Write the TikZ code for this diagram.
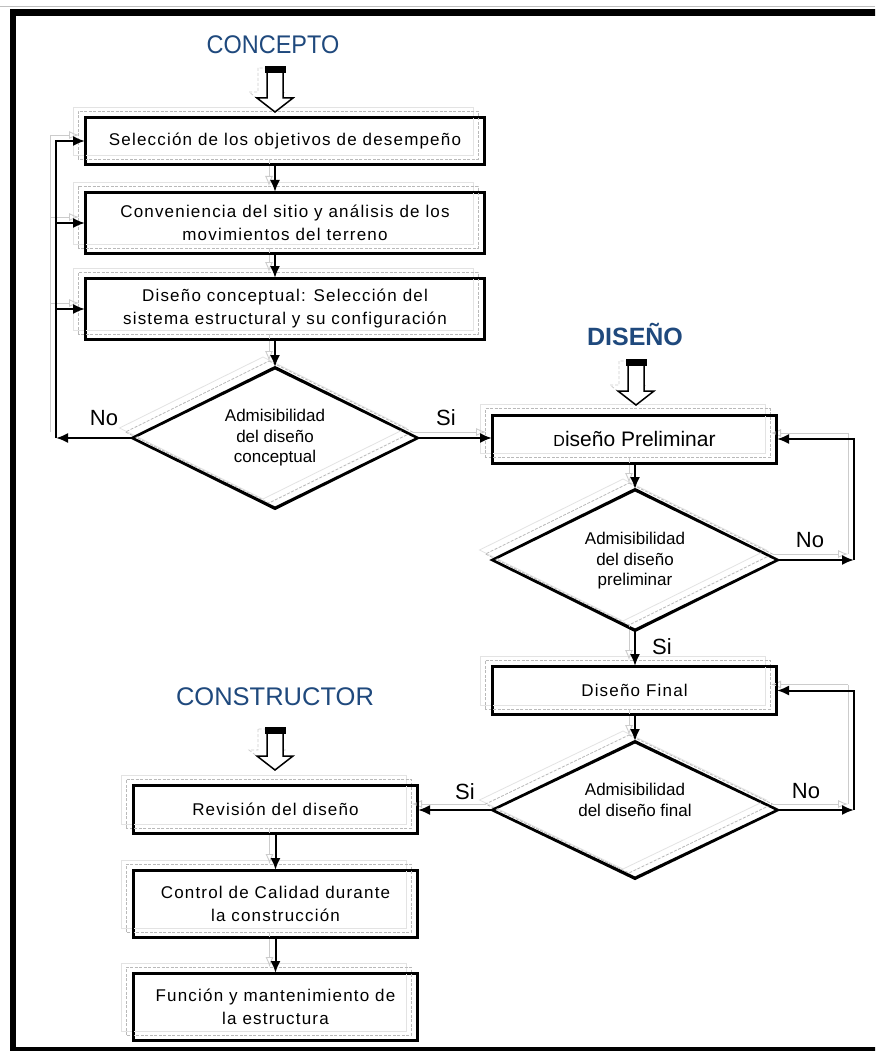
\documentclass[tikz,border=0pt]{standalone}
\usepackage{fontspec}
\setmainfont{Liberation Sans}
\newfontfamily\boxfont[LetterSpace=7]{Liberation Sans}
\usetikzlibrary{shapes.geometric,arrows.meta}
\definecolor{titleblue}{RGB}{31,73,125}
\newcommand\boxshadow[1]{%
  \draw[shadowA] ([shift={(-12,-10)}]#1.south west) rectangle ([shift={(-12,-10)}]#1.north east);
  \draw[shadowB] ([shift={(-7,-6)}]#1.south west) rectangle ([shift={(-7,-6)}]#1.north east);}
\newcommand\diashadow[1]{%
  \draw[shadowA] ([shift={(-12,-10)}]#1.north) -- ([shift={(-12,-10)}]#1.east) -- ([shift={(-12,-10)}]#1.south) -- ([shift={(-12,-10)}]#1.west) -- cycle;
  \draw[shadowB] ([shift={(-6,-6)}]#1.north) -- ([shift={(-6,-6)}]#1.east) -- ([shift={(-6,-6)}]#1.south) -- ([shift={(-6,-6)}]#1.west) -- cycle;}
\newcommand\startarrow[3]{% centre x, top y, tip y
  \draw[gray!40, line width=0.8pt, densely dashed] ({#1-17},{#2+2}) -- ({#1-17},{#3-20}) -- ({#1-26},{#3-20}) -- ({#1-8},{#3-6}) -- ({#1+10},{#3-20}) -- ({#1+1},{#3-20}) -- ({#1+1},{#2+2}) -- cycle;
  \draw[line width=1.5pt, fill=white] ({#1-8},{#2+6}) -- ({#1-8},{#3-14}) -- ({#1-18},{#3-14}) -- (#1,#3) -- ({#1+18},{#3-14}) -- ({#1+8},{#3-14}) -- ({#1+8},{#2+6});
  \fill[black] ({#1-10},#2) rectangle ({#1+11},{#2+7});}
\tikzset{
  titlefont/.style={text=titleblue, inner sep=0pt, font=\fontsize{25.5}{25.5}\selectfont},
  cbox/.style={draw=black, line width=2pt, minimum width=398pt, align=center, inner sep=0pt,
    font=\boxfont\fontsize{17}{23}\selectfont},
  dbox/.style={draw=black, line width=2pt, minimum width=283pt, align=center, inner sep=0pt,
    font=\boxfont\fontsize{17}{23}\selectfont},
  dia/.style={diamond, draw=black, line width=2pt, minimum width=285pt, minimum height=140pt,
    aspect=2.04, inner sep=0pt},
  diatext/.style={align=center, inner sep=0pt, font=\fontsize{17}{20.5}\selectfont},
  lbl/.style={inner sep=0pt, font=\fontsize{22}{22}\selectfont},
  conn/.style={line width=2pt, -{Latex[length=12pt,width=10pt]}},
  cshadow/.style={gray!40, line width=0.9pt, -{Latex[open,length=10pt,width=8pt]}},
  pshadow/.style={gray!40, line width=0.9pt},
  shadowA/.style={gray!22, line width=0.8pt},
  shadowB/.style={gray!55, line width=0.8pt, dash pattern=on 3pt off 1.5pt},
}
\begin{document}
\begin{tikzpicture}[x=1pt,y=-1pt]
\useasboundingbox (0,0) rectangle (875,1051);
\clip (0,0) rectangle (875,1051);
\fill[white] (0,0) rectangle (875,1051);
\draw[gray!50, line width=0.6pt] (0,6) -- (875,6);
\draw[line width=6.5pt] (13,12.5) rectangle (895,1050);

% coordinates for loops
\coordinate (L1) at (56,438);
\coordinate (L2) at (56,141);
\coordinate (R1) at (854,560);
\coordinate (R2) at (854,439);
\coordinate (R3) at (854,810);
\coordinate (R4) at (854,690.5);

% nodes
\node[titlefont] (tc) at (273,45) {\scalebox{0.92}[1]{CONCEPTO}};
\node[cbox, minimum height=46pt] (b1) at (285,141) {Selección de los objetivos de desempeño};
\node[cbox, minimum height=60pt] (b2) at (285,223) {Conveniencia del sitio y análisis de los\\movimientos del terreno};
\node[cbox, minimum height=60pt] (b3) at (285,309) {Diseño conceptual: Selección del\\sistema estructural y su configuración};
\node[dia] (d1) at (275,438) {};
\node[titlefont, font=\bfseries\fontsize{25}{25}\selectfont] (td) at (635,334) {DISEÑO};
\node[dbox, minimum height=47pt, font=\fontsize{21}{21}\selectfont] (p1) at (634.5,439) {{\fontsize{16}{16}\selectfont D}iseño Preliminar};
\node[dia] (d2) at (635,560) {};
\node[dbox, minimum height=47pt] (f1) at (634.5,690.5) {Diseño Final};
\node[dia, minimum height=136pt] (d3) at (635,810) {};
\node[titlefont] (tk) at (275,697) {CONSTRUCTOR};
\node[dbox, minimum height=47pt] (r1) at (275.5,809.5) {Revisión del diseño};
\node[dbox, minimum height=66pt] (r2) at (275.5,904) {Control de Calidad durante\\la construcción};
\node[dbox, minimum height=66pt] (r3) at (275.5,1007) {Función y mantenimiento de\\la estructura};

% shadows
\boxshadow{b1}\boxshadow{b2}\boxshadow{b3}
\boxshadow{p1}\boxshadow{f1}
\boxshadow{r1}\boxshadow{r2}\boxshadow{r3}
\diashadow{d1}\diashadow{d2}\diashadow{d3}

% connector shadows
\begin{scope}[transform canvas={shift={(-6pt,6pt)}}]
\draw[cshadow] (b1.south -| d1.north) -- (b2.north -| d1.north);
\draw[cshadow] (b2.south -| d1.north) -- (b3.north -| d1.north);
\draw[cshadow] (b3.south -| d1.north) -- (d1.north);
\draw[pshadow] (L1) -- (L2);
\draw[cshadow] (L2) -- (b1.west);
\draw[cshadow] (b2.west -| L1) -- (b2.west);
\draw[cshadow] (b3.west -| L1) -- (b3.west);
\draw[cshadow] (d1.east) -- (d1.east -| p1.west);
\draw[cshadow] (p1.south -| d2.north) -- (d2.north);
\draw[cshadow] (d2.east) -- (R1);
\draw[pshadow] (R1) -- (R2);
\draw[cshadow] (R2) -- (p1.east);
\draw[cshadow] (d2.south) -- (f1.north -| d2.south);
\draw[cshadow] (f1.south -| d3.north) -- (d3.north);
\draw[cshadow] (d3.east) -- (R3);
\draw[pshadow] (R3) -- (R4);
\draw[cshadow] (R4) -- (f1.east);
\draw[cshadow] (d3.west) -- (d3.west -| r1.east);
\draw[cshadow] (r1.south) -- (r2.north);
\draw[cshadow] (r2.south) -- (r3.north);
\end{scope}

% redraw main outlines over shadows
\foreach \n in {b1,b2,b3,p1,f1,r1,r2,r3}{
  \draw[line width=2pt] (\n.south west) rectangle (\n.north east);}
\foreach \n in {d1,d2,d3}{
  \draw[line width=2pt] (\n.north) -- (\n.east) -- (\n.south) -- (\n.west) -- cycle;}

% diamond texts
\node[diatext] (d1t) at (275,438) {Admisibilidad\\del diseño\\conceptual};
\node[diatext] (d2t) at (635,561) {Admisibilidad\\del diseño\\preliminar};
\node[diatext] (d3t) at (635,800) {Admisibilidad\\del diseño final};

% start arrows
\startarrow{275}{66}{112}
\startarrow{636}{359}{405}
\startarrow{275}{727}{770}

% connectors
\draw[conn] (b1.south -| d1.north) -- (b2.north -| d1.north);
\draw[conn] (b2.south -| d1.north) -- (b3.north -| d1.north);
\draw[conn] (b3.south -| d1.north) -- (d1.north);
\draw[conn] (d1.west) -- (L1);
\draw[conn] (L1) -- (L2) -- (b1.west);
\draw[conn] (b2.west -| L1) -- (b2.west);
\draw[conn] (b3.west -| L1) -- (b3.west);
\draw[conn] (d1.east) -- (d1.east -| p1.west);
\draw[conn] (p1.south -| d2.north) -- (d2.north);
\draw[conn] (d2.east) -- (R1);
\draw[conn] (R1) -- (R2) -- (p1.east);
\draw[conn] (d2.south) -- (f1.north -| d2.south);
\draw[conn] (f1.south -| d3.north) -- (d3.north);
\draw[conn] (d3.east) -- (R3);
\draw[conn] (R3) -- (R4) -- (f1.east);
\draw[conn] (d3.west) -- (d3.west -| r1.east);
\draw[conn] (r1.south) -- (r2.north);
\draw[conn] (r2.south) -- (r3.north);

% labels
\node[lbl] (no1) at (104,418) {No};
\node[lbl] (si1) at (446,418) {Si};
\node[lbl] (no2) at (810,540) {No};
\node[lbl] (si2) at (662,647) {Si};
\node[lbl] (no3) at (806,791) {No};
\node[lbl] (si3) at (465,792) {Si};
\end{tikzpicture}
\end{document}
